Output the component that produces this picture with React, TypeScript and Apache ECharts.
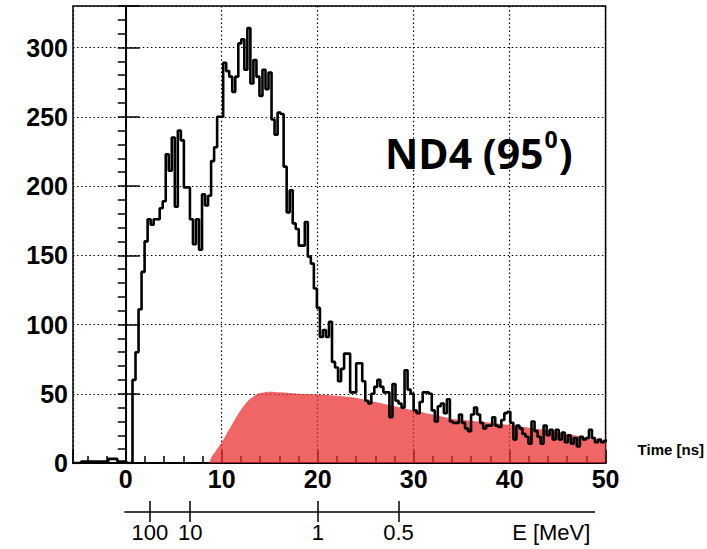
import React, { useEffect, useRef } from 'react';
import * as echarts from 'echarts';

// ---------- data ----------
const BIN_START = -5.6; // ns, left edge of first bin
const BIN_WIDTH = 0.315; // ns
const HIST_PRE = [0, 0, 0, 1, 1, 1, 1, 1, 1, 1, 1, 1, 3, 3, 3, 1, 1, 1, 0, 0];
const HIST_RISE = [60, 80, 111, 138, 160, 176, 172, 176, 176, 184, 189, 223, 211, 235, 185, 240, 233, 199, 199, 176, 158];
const HIST_PEAK = [176, 154, 194, 186, 193, 218, 228, 250, 250, 289, 283, 279, 268, 279, 303, 306, 284, 314, 274, 291, 279, 265, 284, 270, 282, 248, 237, 253, 252, 214, 181, 197, 173, 169, 157, 157, 174, 149, 144, 126, 112, 91, 96, 91];
const HIST_FALL = [102, 73, 69, 59, 68, 79, 79, 51, 51, 72, 72, 59, 45, 43, 50, 55, 60, 55, 51, 51, 33, 57, 45, 43, 40, 67, 53, 50, 38, 36, 44, 51, 51, 50, 38, 30, 41, 43, 36, 46, 30, 29, 29, 35, 29, 25, 23, 35, 40, 35];
const HIST_TAIL = [29, 25, 27, 27, 33, 27, 26, 31, 36, 37, 29, 17, 27, 25, 21, 19, 14, 30, 23, 19, 14, 27, 20, 24, 17, 24, 17, 22, 15, 20, 14, 18, 12, 19, 17, 18, 24, 18, 15, 17, 15, 16];

const RED_T = [8.7, 9.0, 9.5, 10, 10.5, 11, 11.5, 12, 12.5, 13, 13.5, 14, 15, 16, 18, 20, 22, 24, 26, 28, 30, 32, 34, 36, 38, 40, 42, 44, 46, 48, 50];
const RED_V = [0, 5, 10, 15, 21, 27, 33, 38.5, 43, 46.5, 49, 50.5, 51.5, 51, 50, 49.5, 48.5, 47, 44, 41, 38, 35, 32, 30.5, 29, 27.4, 25.5, 23.5, 21, 18.5, 16];

const X_MIN = -5.5;
const X_MAX = 50;
const X_TICKS = [0, 10, 20, 30, 40, 50];
const X_MINOR = [-4, -2, 2, 4, 6, 8, 12, 14, 16, 18, 22, 24, 26, 28, 32, 34, 36, 38, 42, 44, 46, 48];
const Y_MAX = 330;
const Y_TICKS = [0, 50, 100, 150, 200, 250, 300];

const ENERGY_TIMES = [2.5, 6.7, 20.0, 28.4];
const ENERGY_LABELS = ['100', '10', '1', '0.5'];
const ENERGY_NAME = 'E [MeV]';
const ENERGY_NAME_T = 44.3;
const E_MIN = -0.1;
const E_MAX = 48.8;

const TITLE_MAIN = 'ND4 (95';
const TITLE_SUP = '0';
const TITLE_END = ')';
const X_NAME = 'Time [ns]';

// ---------- layout ----------
const W = 707;
const H = 549;
const G_LEFT = 73;
const G_TOP = 6;
const G_RIGHT = 101;
const G_BOTTOM = 86;

export default function App() {
  const ref = useRef<HTMLDivElement>(null);

  useEffect(() => {
    if (!ref.current) return;
    const chart = echarts.init(ref.current, null, { renderer: 'svg' });

    const hist = [...HIST_PRE, ...HIST_RISE, ...HIST_PEAK, ...HIST_FALL, ...HIST_TAIL];
    const histData: number[][] = hist.map((v, i) => [BIN_START + i * BIN_WIDTH, v]);
    histData.push([BIN_START + hist.length * BIN_WIDTH, hist[hist.length - 1]]);
    const redData = RED_T.map((t, i) => [t, RED_V[i]]);

    const plotW = W - G_LEFT - G_RIGHT;
    const scale = plotW / (X_MAX - X_MIN);
    const eLeft = G_LEFT + (E_MIN - X_MIN) * scale;
    const eWidth = (E_MAX - E_MIN) * scale;

    const dotted = { color: '#000', width: 1.2, type: [1.5, 2.6] as number[] };
    const numFont = "'Liberation Sans Narrow', 'Liberation Sans', Arial, sans-serif";

    const option: any = {
      animation: false,
      backgroundColor: '#fff',
      grid: [
        { left: G_LEFT, top: G_TOP, right: G_RIGHT, bottom: G_BOTTOM, show: true, borderColor: '#000', borderWidth: 1.5, backgroundColor: 'transparent' },
        { left: eLeft, width: eWidth, top: 501, height: 11, show: false },
      ],
      xAxis: [
        {
          type: 'value', gridIndex: 0, position: 'bottom', min: X_MIN, max: X_MAX,
          axisLine: { show: true, lineStyle: { color: '#000', width: 2 } },
          axisTick: { show: true, inside: true, length: 13, lineStyle: { color: '#000', width: 1.5 } },
          axisLabel: {
            show: true, margin: 3, color: '#000', fontFamily: numFont, fontWeight: 'bold', fontSize: 25,
            formatter: (v: number) => (X_TICKS.includes(v) ? String(v) : ''),
          },
          splitLine: { show: true, lineStyle: dotted },
          name: X_NAME, nameLocation: 'end', nameGap: 32,
          nameTextStyle: { color: '#000', fontFamily: "'Liberation Sans', Arial, sans-serif", fontWeight: 'bold', fontSize: 15, verticalAlign: 'bottom', padding: [0, 0, 6, 0] },
        },
        {
          type: 'value', gridIndex: 0, position: 'bottom', min: X_MIN, max: X_MAX,
          axisLine: { show: false },
          axisTick: { show: true, inside: true, length: 7, customValues: X_MINOR, lineStyle: { color: '#000', width: 1.5 } },
          axisLabel: { show: false },
          splitLine: { show: false },
        },
        {
          type: 'value', gridIndex: 1, position: 'bottom', min: E_MIN, max: E_MAX,
          axisLine: { show: true, lineStyle: { color: '#000', width: 1.5 } },
          axisTick: { show: true, inside: false, length: 10, customValues: ENERGY_TIMES, lineStyle: { color: '#000', width: 1.5 } },
          axisLabel: {
            show: true, margin: 9, color: '#000', fontFamily: numFont, fontSize: 22,
            customValues: [...ENERGY_TIMES, ENERGY_NAME_T],
            formatter: (v: number) => {
              const i = ENERGY_TIMES.indexOf(v);
              if (i >= 0) return ENERGY_LABELS[i];
              return v === ENERGY_NAME_T ? ENERGY_NAME : '';
            },
          },
          splitLine: { show: false },
        },
        {
          type: 'value', gridIndex: 1, position: 'bottom', min: E_MIN, max: E_MAX,
          axisLine: { show: false },
          axisTick: { show: true, inside: true, length: 11, customValues: ENERGY_TIMES, lineStyle: { color: '#000', width: 1.5 } },
          axisLabel: { show: false },
          splitLine: { show: false },
        },
      ],
      yAxis: [
        {
          type: 'value', gridIndex: 0, min: 0, max: Y_MAX, interval: 50,
          axisLine: { show: true, lineStyle: { color: '#000', width: 2 } },
          axisTick: { show: true, inside: true, length: 14, lineStyle: { color: '#000', width: 1.5 } },
          axisLabel: {
            show: true, margin: 5, color: '#000', fontFamily: numFont, fontWeight: 'bold', fontSize: 25,
            formatter: (v: number) => (Y_TICKS.includes(v) ? String(v) : ''),
          },
          splitLine: { show: true, lineStyle: dotted },
        },
        {
          type: 'value', gridIndex: 0, min: 0, max: Y_MAX, interval: 10,
          axisLine: { show: false },
          axisTick: { show: true, inside: true, length: 8, lineStyle: { color: '#000', width: 1.5 } },
          axisLabel: { show: false },
          splitLine: { show: false },
        },
        { type: 'value', gridIndex: 1, min: 0, max: 1, show: false },
      ],
      series: [
        {
          type: 'line', xAxisIndex: 0, yAxisIndex: 0, data: redData, smooth: 0.3,
          symbol: 'none', lineStyle: { width: 0 }, areaStyle: { color: '#ea2a2a', opacity: 0.72 }, z: 1,
        },
        {
          type: 'line', xAxisIndex: 0, yAxisIndex: 0, data: histData, step: 'end',
          symbol: 'none', lineStyle: { color: '#000', width: 2.6 }, z: 3, clip: true,
        },
      ],
      graphic: [
        {
          type: 'text', left: 385, top: 127, z: 10,
          style: {
            text: `{m|${TITLE_MAIN}}{s|${TITLE_SUP}}{m|${TITLE_END}}`,
            rich: {
              m: { fontFamily: "'Open Sans', sans-serif", fontWeight: 'bold', fontSize: 41, lineHeight: 52, fill: '#000' },
              s: { fontFamily: "'Open Sans', sans-serif", fontWeight: 'bold', fontSize: 23, lineHeight: 46, verticalAlign: 'top', fill: '#000', padding: [0, 1, 0, 1] },
            },
          },
        },
      ],
    };

    chart.setOption(option);
    return () => chart.dispose();
  }, []);

  return <div ref={ref} style={{ position: 'fixed', left: 0, top: 0, width: W, height: H }} />;
}
